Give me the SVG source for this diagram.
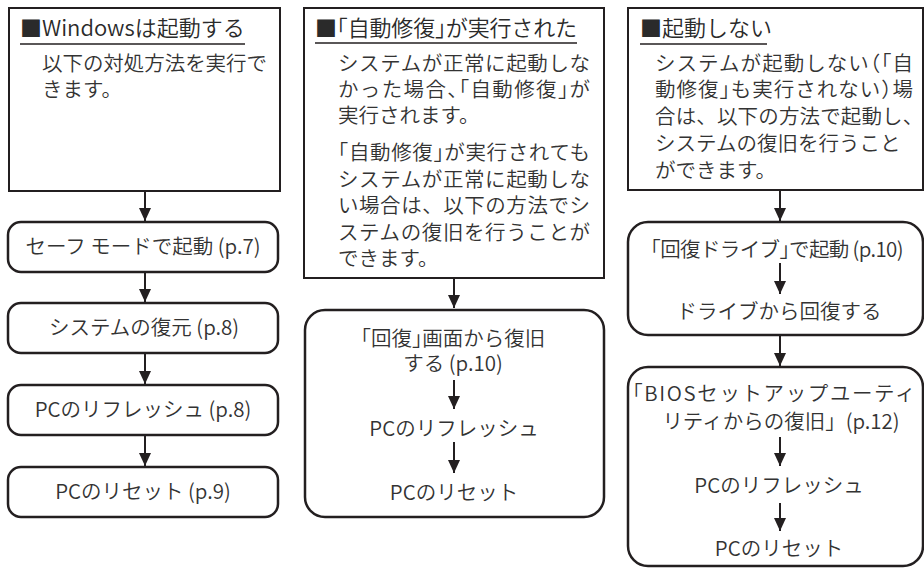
<svg xmlns="http://www.w3.org/2000/svg" width="924" height="569" viewBox="0 0 924 569">
<style>
  text { font-family: "Noto Sans CJK JP", "Noto Sans", sans-serif; fill: #333; font-weight: 350; }
  .title { font-size: 22px; fill: #2a2a2a; }
  .body { font-size: 20.5px; }
  .node { font-size: 20.5px; text-anchor: middle; }
  .h { font-feature-settings: "halt"; }
  .box { fill: #fff; stroke: #231f20; stroke-width: 2; }
  .rbox { fill: #fff; stroke: #231f20; stroke-width: 2.5; }
  .ul { stroke: #231f20; stroke-width: 1.5; }
  .arrow { stroke: #231f20; stroke-width: 2; fill: none; marker-end: url(#ah); }
</style>
<defs>
  <marker id="ah" markerUnits="userSpaceOnUse" markerWidth="13" markerHeight="12" viewBox="0 0 13 12" refX="13" refY="6" orient="auto">
    <path d="M0,0 L13,6 L0,12 z" fill="#231f20"/>
  </marker>
</defs>
<rect width="924" height="569" fill="#fff"/>

<g id="box1">
  <rect class="box" x="9" y="8" width="271" height="183"/>
  <text class="title" x="20" y="36">■Windowsは起動する</text>
  <line class="ul" x1="20" y1="44" x2="245" y2="44"/>
  <text class="body" x="42" y="71" textLength="225" lengthAdjust="spacing">以下の対処方法を実行で</text>
  <text class="body" x="42" y="97">きます。</text>
</g>

<g id="n1a">
  <rect class="rbox" x="8" y="222" width="270" height="50" rx="13"/>
  <text class="node" x="143" y="254">セーフ モードで起動 (p.7)</text>
</g>
<g id="n1b">
  <rect class="rbox" x="8" y="303" width="270" height="50" rx="13"/>
  <text class="node" x="144" y="335">システムの復元 (p.8)</text>
</g>
<g id="n1c">
  <rect class="rbox" x="8" y="385" width="270" height="50" rx="13"/>
  <text class="node" x="143" y="417">PCのリフレッシュ (p.8)</text>
</g>
<g id="n1d">
  <rect class="rbox" x="8" y="467" width="270" height="50" rx="13"/>
  <text class="node" x="143" y="499">PCのリセット (p.9)</text>
</g>

<g id="box2">
  <rect class="box" x="304" y="8" width="300" height="270"/>
  <text class="title" x="315" y="36" textLength="262" lengthAdjust="spacing">■<tspan class="h">「</tspan>自動修復<tspan class="h">」</tspan>が実行された</text>
  <line class="ul" x1="315" y1="43" x2="577" y2="43"/>
  <text class="body" x="338" y="71" textLength="252" lengthAdjust="spacing">システムが正常に起動しな</text>
  <text class="body" x="338" y="97" textLength="252" lengthAdjust="spacing">かった場合<tspan class="h">、「</tspan>自動修復<tspan class="h">」</tspan>が</text>
  <text class="body" x="338" y="123">実行されます。</text>
  <text class="body" x="338" y="160" textLength="252" lengthAdjust="spacing"><tspan class="h">「</tspan>自動修復<tspan class="h">」</tspan>が実行されても</text>
  <text class="body" x="338" y="187" textLength="252" lengthAdjust="spacing">システムが正常に起動しな</text>
  <text class="body" x="338" y="213" textLength="252" lengthAdjust="spacing">い場合は、以下の方法でシ</text>
  <text class="body" x="338" y="240" textLength="252" lengthAdjust="spacing">ステムの復旧を行うことが</text>
  <text class="body" x="338" y="266">できます。</text>
</g>

<g id="n2">
  <rect class="rbox" x="305" y="310" width="299" height="207" rx="20"/>
  <text class="node" x="453" y="346"><tspan class="h">「</tspan>回復<tspan class="h">」</tspan>画面から復旧</text>
  <text class="node" x="453" y="371">する (p.10)</text>
  <text class="node" x="454" y="436">PCのリフレッシュ</text>
  <text class="node" x="454" y="500">PCのリセット</text>
</g>

<g id="box3">
  <rect class="box" x="628" y="8" width="295" height="182"/>
  <text class="title" x="640" y="36">■起動しない</text>
  <line class="ul" x1="640" y1="44" x2="767" y2="44"/>
  <text class="body" x="655" y="71" textLength="258" lengthAdjust="spacing">システムが起動しない<tspan class="h">（「</tspan>自</text>
  <text class="body" x="655" y="97" textLength="258" lengthAdjust="spacing">動修復<tspan class="h">」</tspan>も実行されない<tspan class="h">）</tspan>場</text>
  <text class="body" x="655" y="124" textLength="258" lengthAdjust="spacing">合は、以下の方法で起動し<tspan class="h">、</tspan></text>
  <text class="body" x="655" y="151">システムの復旧を行うこと</text>
  <text class="body" x="655" y="178">ができます。</text>
</g>

<g id="n3a">
  <rect class="rbox" x="628" y="222" width="295" height="113" rx="20"/>
  <text class="node" x="777" y="257" textLength="253" lengthAdjust="spacing"><tspan class="h">「</tspan>回復ドライブ<tspan class="h">」</tspan>で起動 (p.10)</text>
  <text class="node" x="779" y="319">ドライブから回復する</text>
</g>

<g id="n3b">
  <rect class="rbox" x="628" y="367" width="295" height="199" rx="20"/>
  <text class="node" x="774" y="401" textLength="283" lengthAdjust="spacing"><tspan class="h">「</tspan>BIOSセットアップユーティ</text>
  <text class="node" x="781" y="429">リティからの復旧」(p.12)</text>
  <text class="node" x="779" y="493">PCのリフレッシュ</text>
  <text class="node" x="779" y="556">PCのリセット</text>
</g>

<g id="connectors">
  <line class="arrow" x1="145" y1="191" x2="145" y2="221"/>
  <line class="arrow" x1="145" y1="272" x2="145" y2="302"/>
  <line class="arrow" x1="145" y1="353" x2="145" y2="384"/>
  <line class="arrow" x1="145" y1="435" x2="145" y2="466"/>
  <line class="arrow" x1="454" y1="278" x2="454" y2="308"/>
  <line class="arrow" x1="454" y1="380" x2="454" y2="409"/>
  <line class="arrow" x1="454" y1="442" x2="454" y2="473"/>
  <line class="arrow" x1="780" y1="190" x2="780" y2="221"/>
  <line class="arrow" x1="780" y1="263" x2="780" y2="294"/>
  <line class="arrow" x1="780" y1="335" x2="780" y2="366"/>
  <line class="arrow" x1="780" y1="437" x2="780" y2="466"/>
  <line class="arrow" x1="780" y1="503" x2="780" y2="531"/>
</g>
</svg>
